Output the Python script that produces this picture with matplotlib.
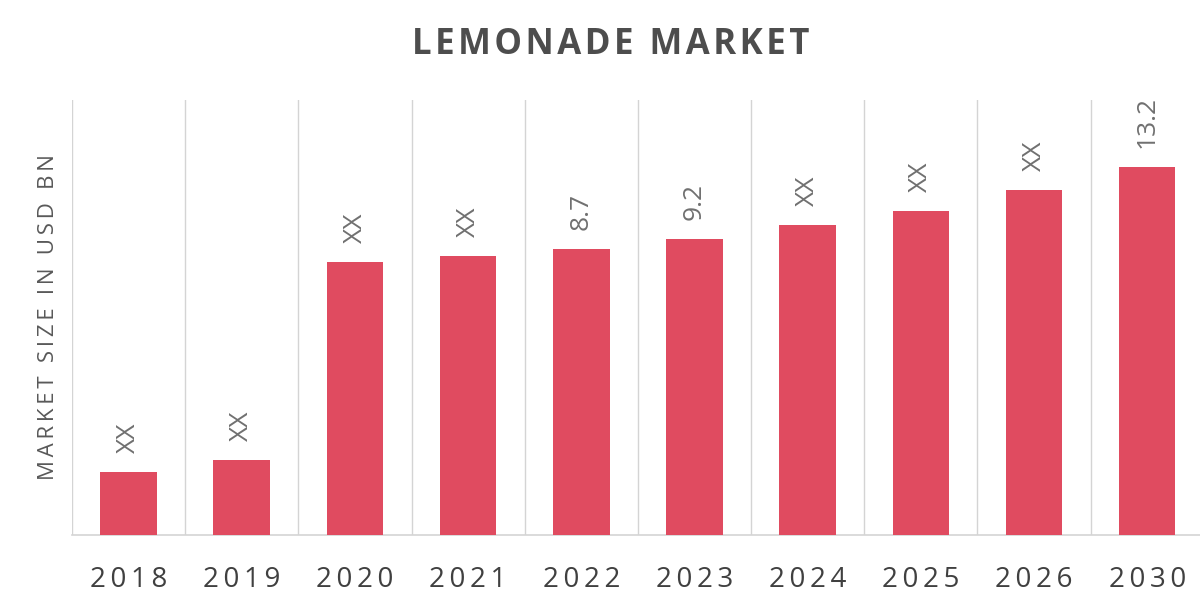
import matplotlib.pyplot as plt
import numpy as np

plt.rcParams['font.family'] = ['Open Sans', 'DejaVu Sans']

years = ['2018', '2019', '2020', '2021', '2022', '2023', '2024', '2025', '2026', '2030']
# bar heights as drawn in the picture (the source chart is not to scale)
bar_heights = [63, 75, 273, 279, 286, 296, 310, 324, 345, 368]
value_labels = ['XX', 'XX', 'XX', 'XX', '8.7', '9.2', 'XX', 'XX', 'XX', '13.2']

bar_color = '#E04B60'
grid_color = '#D4D4D4'


def spaced(s, sep='\u2009'):
    # poor man's letter spacing
    return sep.join(s)


fig = plt.figure(figsize=(12, 6), dpi=100)
ax = fig.add_axes([0.06, 0.1083, 0.945, 0.725])

x = np.arange(len(years))
ax.bar(x, bar_heights, width=0.5, color=bar_color, zorder=3)

# vertical separators between categories
for b in np.arange(-0.5, len(years), 1.0):
    ax.axvline(b, color=grid_color, linewidth=1, zorder=1)

for xi, h, lab in zip(x, bar_heights, value_labels):
    ax.annotate(lab, (xi, h), xytext=(0, 14), textcoords='offset points',
                rotation=90, ha='center', va='bottom', fontsize=19,
                color='#707070')

ax.set_xlim(-0.5, len(years) - 0.48)
ax.set_ylim(0, 435)
ax.set_xticks(x)
ax.set_xticklabels([spaced(y) for y in years], fontsize=20, color='#404040')
ax.tick_params(axis='x', length=0, pad=22)
ax.set_yticks([])

for s in ['top', 'right', 'left']:
    ax.spines[s].set_visible(False)
ax.spines['bottom'].set_color(grid_color)
ax.spines['bottom'].set_linewidth(1.2)

ax.set_ylabel(spaced('MARKET SIZE IN USD BN'), fontsize=16, color='#595959', labelpad=9)
fig.text(0.509, 0.925, spaced('LEMONADE MARKET', '\u200a'), ha='center', va='center',
         fontsize=25, fontweight='bold', color='#4d4d4d')

plt.savefig('out.png', dpi=100)
